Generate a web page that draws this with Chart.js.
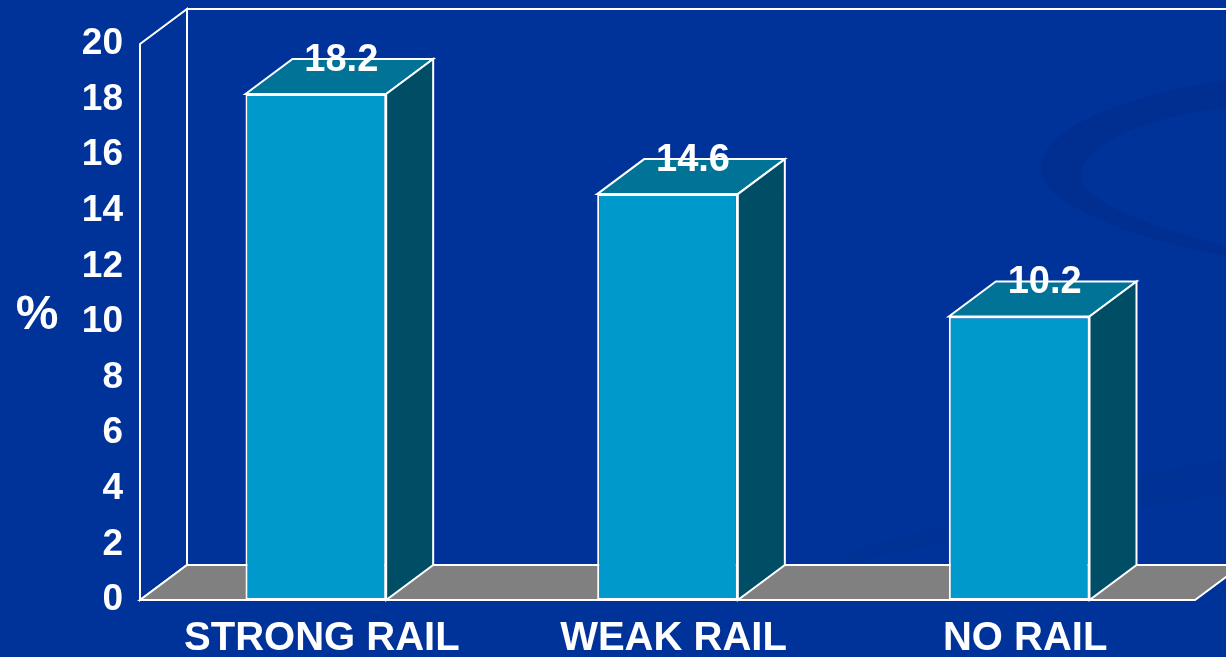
<!DOCTYPE html>
<html>
<head>
<meta charset="utf-8">
<script src="https://cdn.jsdelivr.net/npm/chart.js@4"></script>
<style>
  html, body { margin: 0; padding: 0; background: #003399; }
  #wrap { width: 1226px; height: 657px; }
</style>
</head>
<body>
<div id="wrap"><canvas id="railChart" width="1226" height="657"></canvas></div>
<script>
const categories = ["STRONG RAIL", "WEAK RAIL", "NO RAIL"];
const percentValues = [18.2, 14.6, 10.2];
const yTicks = { min: 0, max: 20, step: 2 };
const yAxisTitle = "%";

const FONT = '"Liberation Sans", Arial, sans-serif';
const DEPTH_X = 47;
const DEPTH_Y = -35;

const COLORS = {
  bg: "#003399",
  swoosh: "#002e91",
  front: "#0099cc",
  top: "#007396",
  side: "#004d66",
  floor: "#808080",
  line: "#ffffff"
};

function polygon(ctx, pts, fill) {
  ctx.beginPath();
  ctx.moveTo(pts[0][0], pts[0][1]);
  for (let i = 1; i < pts.length; i++) ctx.lineTo(pts[i][0], pts[i][1]);
  ctx.closePath();
  if (fill) {
    ctx.fillStyle = fill;
    ctx.fill();
  }
  ctx.stroke();
}

// background, faint swooshes, then the box walls and floor
const backdrop = {
  id: "backdrop",
  beforeDraw(chart) {
    const ctx = chart.ctx;
    ctx.save();
    ctx.fillStyle = COLORS.bg;
    ctx.fillRect(0, 0, chart.width, chart.height);

    ctx.fillStyle = COLORS.swoosh;
    ctx.beginPath();
    ctx.moveTo(1226, 80);
    ctx.bezierCurveTo(1110, 98, 1010, 140, 1050, 190);
    ctx.bezierCurveTo(1090, 225, 1170, 245, 1226, 256);
    ctx.lineTo(1226, 246);
    ctx.bezierCurveTo(1160, 230, 1090, 205, 1082, 180);
    ctx.bezierCurveTo(1075, 145, 1150, 115, 1226, 108);
    ctx.closePath();
    ctx.fill();

    ctx.globalAlpha = 0.45;
    ctx.beginPath();
    ctx.moveTo(850, 552);
    ctx.quadraticCurveTo(1040, 495, 1226, 458);
    ctx.lineTo(1226, 494);
    ctx.quadraticCurveTo(1040, 522, 850, 562);
    ctx.closePath();
    ctx.fill();
    ctx.restore();
  },
  beforeDatasetsDraw(chart) {
    const ctx = chart.ctx;
    const a = chart.chartArea;
    ctx.save();
    ctx.strokeStyle = COLORS.line;
    ctx.lineWidth = 2;
    ctx.lineJoin = "miter";

    // back wall
    ctx.strokeRect(a.left + DEPTH_X, a.top + DEPTH_Y, a.right - a.left, a.bottom - a.top);
    // left wall
    polygon(ctx, [
      [a.left, a.top], [a.left + DEPTH_X, a.top + DEPTH_Y],
      [a.left + DEPTH_X, a.bottom + DEPTH_Y], [a.left, a.bottom]
    ], null);
    // floor
    polygon(ctx, [
      [a.left, a.bottom], [a.left + DEPTH_X, a.bottom + DEPTH_Y],
      [a.right + DEPTH_X, a.bottom + DEPTH_Y], [a.right, a.bottom]
    ], COLORS.floor);

    // top and side faces of each bar
    chart.getDatasetMeta(0).data.forEach((bar) => {
      const p = bar.getProps(["x", "y", "base", "width"], true);
      const L = p.x - p.width / 2;
      const R = p.x + p.width / 2;
      polygon(ctx, [
        [L, p.y], [L + DEPTH_X, p.y + DEPTH_Y],
        [R + DEPTH_X, p.y + DEPTH_Y], [R, p.y]
      ], COLORS.top);
      polygon(ctx, [
        [R, p.y], [R + DEPTH_X, p.y + DEPTH_Y],
        [R + DEPTH_X, p.base + DEPTH_Y], [R, p.base]
      ], COLORS.side);
    });
    ctx.restore();
  },
  afterDatasetsDraw(chart) {
    const ctx = chart.ctx;
    const values = chart.data.datasets[0].data;
    ctx.save();
    ctx.fillStyle = "#ffffff";
    ctx.font = "bold 38px " + FONT;
    ctx.textAlign = "center";
    ctx.textBaseline = "alphabetic";
    chart.getDatasetMeta(0).data.forEach((bar, i) => {
      const p = bar.getProps(["x", "y"], true);
      ctx.fillText(values[i].toFixed(1), p.x + DEPTH_X / 2 + 2, p.y - 23);
    });

    // percent sign beside the value axis
    const ys = chart.scales.y;
    ctx.font = "bold 48px " + FONT;
    ctx.textBaseline = "middle";
    ctx.fillText(yAxisTitle, 37, (ys.top + ys.bottom) / 2 - 6);
    ctx.restore();
  }
};

new Chart(document.getElementById("railChart"), {
  type: "bar",
  data: {
    labels: categories,
    datasets: [{
      data: percentValues,
      backgroundColor: COLORS.front,
      borderColor: COLORS.line,
      borderWidth: 2,
      borderSkipped: false,
      barPercentage: 0.4,
      categoryPercentage: 1
    }]
  },
  options: {
    responsive: false,
    animation: false,
    layout: { padding: { top: 44, right: 31, left: 0, bottom: 0 } },
    plugins: {
      legend: { display: false },
      tooltip: { enabled: false }
    },
    scales: {
      x: {
        grid: { display: false, drawTicks: false },
        border: { display: false },
        ticks: {
          color: "#ffffff",
          font: { family: FONT, size: 40, weight: "bold" },
          padding: 15,
          labelOffset: 6,
          maxRotation: 0,
          autoSkip: false
        },
        afterFit(scale) { scale.height = 57; }
      },
      y: {
        min: yTicks.min,
        max: yTicks.max,
        grid: { display: false, drawTicks: false },
        border: { display: false },
        ticks: {
          stepSize: yTicks.step,
          color: "#ffffff",
          font: { family: FONT, size: 37, weight: "bold" },
          padding: 17
        },
        afterFit(scale) { scale.width = 140; }
      }
    }
  },
  plugins: [backdrop]
});
</script>
</body>
</html>
